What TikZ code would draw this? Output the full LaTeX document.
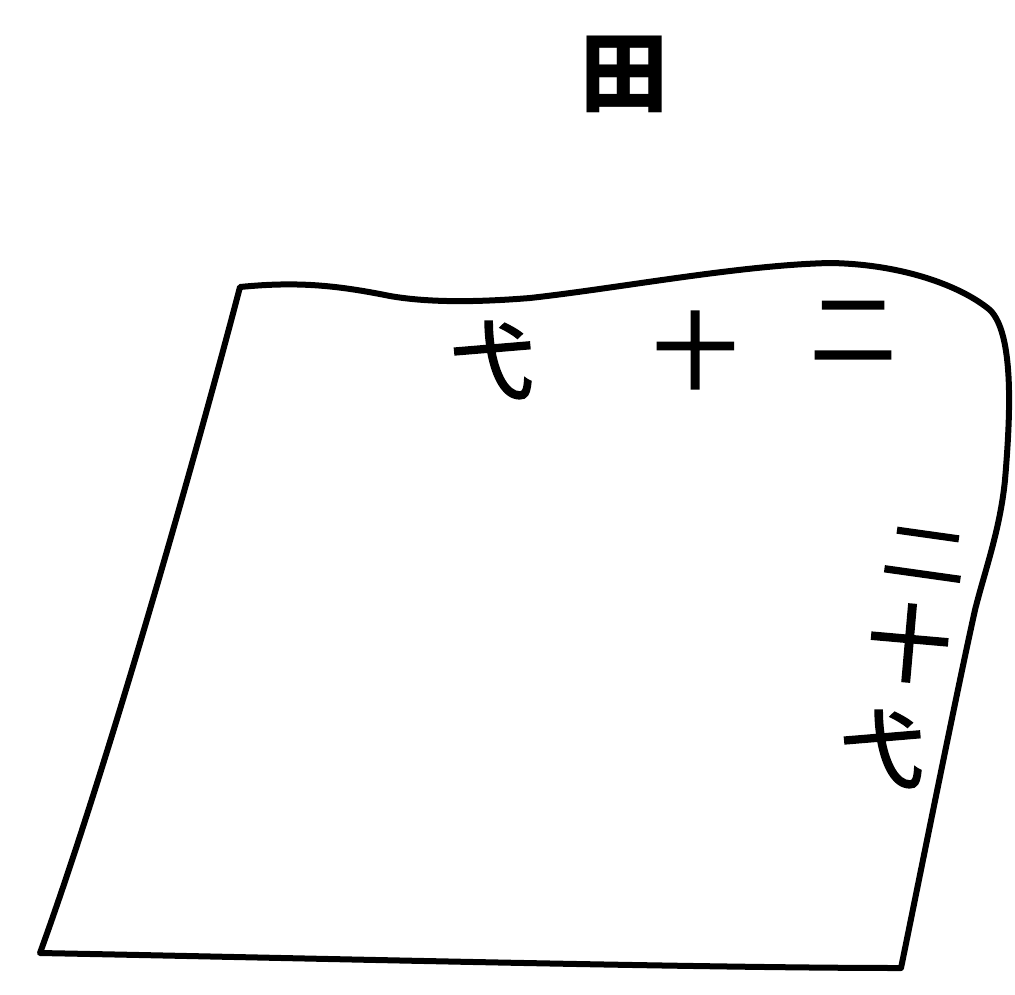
\documentclass[tikz,border=0pt]{standalone}
\usepackage{fontspec}
\newfontfamily\cjk{Noto Sans CJK SC}
\newfontfamily\cjkmed[FakeBold=2.5]{Noto Sans CJK SC}
\tikzset{
  outline/.style={line width=6pt, line join=round, line cap=round, black},
  glyph/.style={font=\cjkmed\fontsize{84}{84}\selectfont, inner sep=0pt, anchor=center},
  title/.style={font=\cjk\bfseries\fontsize{88}{88}\selectfont, inner sep=0pt, anchor=center}
}
\begin{document}
\begin{tikzpicture}[x=1pt,y=-1pt]
\useasboundingbox (0,0) rectangle (1015,994);
% outline
\draw[outline]
  (40,953) .. controls (110,760) and (200,440) .. (240,287)
  .. controls (300,281) and (340,286) .. (390,296)
  .. controls (430,303) and (480,302) .. (530,298)
  .. controls (620,288) and (740,265) .. (830,263)
  .. controls (900,264) and (960,285) .. (990,310)
  .. controls (1015,335) and (1010,420) .. (1005,480)
  .. controls (1000,530) and (985,570) .. (975,610)
  .. controls (955,700) and (915,900) .. (901,968)
  .. controls (700,968) and (300,958) .. (40,953)
  -- cycle;
% title
\node[title] (t) at (624,74) {田};
% top row
\node[glyph] (a1) at (492,360) {弋};
\node[glyph] (a2) at (695,350) {十};
\node[glyph] (a3) at (853,331) {二};
% right column
\node[glyph, rotate=-8, yscale=0.8] (b1) at (925,555) {二};
\node[glyph, rotate=-5] (b2) at (909,643) {十};
\node[glyph] (b3) at (882,749) {弋};
\end{tikzpicture}
\end{document}
